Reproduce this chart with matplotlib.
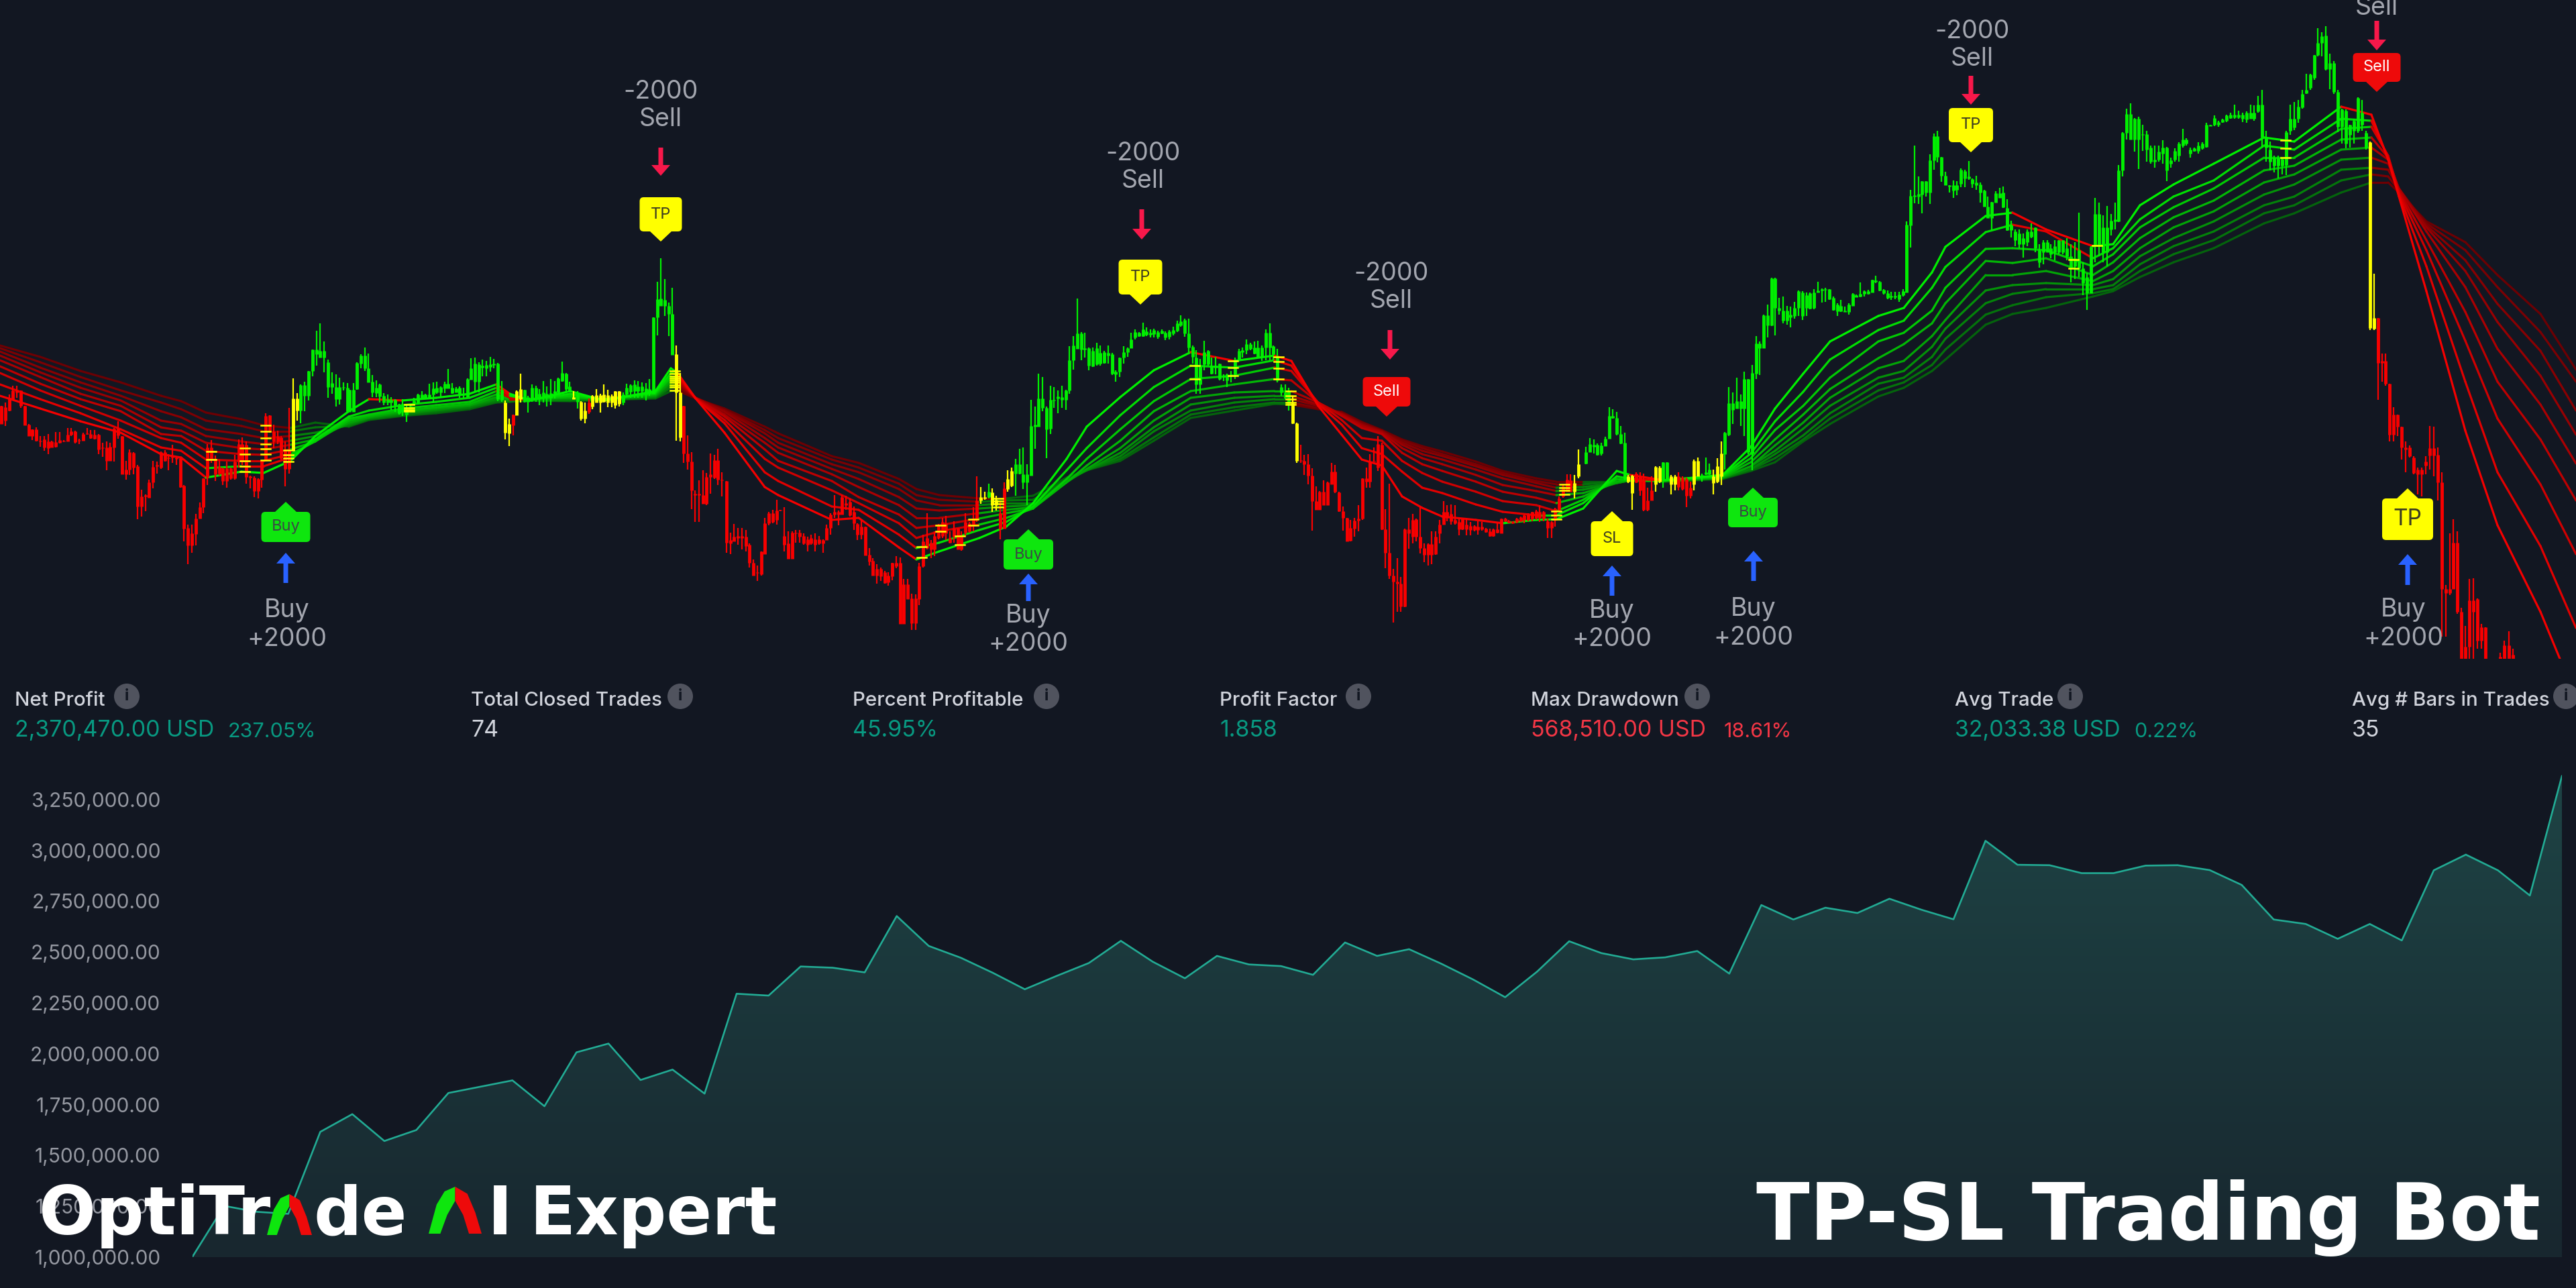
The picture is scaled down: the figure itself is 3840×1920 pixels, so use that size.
# ===========================================================
# OptiTrade AI Expert: price chart, trade signals, stats, equity
# ===========================================================
import numpy as np
import matplotlib
matplotlib.use("Agg")
import matplotlib.pyplot as plt
from matplotlib.collections import LineCollection
from matplotlib.colors import to_rgb
from matplotlib.patches import Circle, FancyBboxPatch, Polygon

# -----------------------------------------------------------
# 1. Candles: (high, low, body top, body bottom), chart has no price
#    scale so values are chart rows, smaller means higher price
# -----------------------------------------------------------
candles_a = [
    ("r", [(605,632,605,632),(600,635,607,627),(588,613,593,612),(575,595,582,595),(575,593,582,585),(582,608,582,605),
           (605,634,605,634),(632,650,633,650),(640,656,640,650),(637,658,640,657),(650,666,657,658),(650,672,655,667),
           (647,677,658,668),(657,667,658,667),(644,667,659,666),(644,661,656,660),(656,659,657,658),(638,658,648,658),
           (638,650,643,648),(642,661,643,659),(654,662,656,657),(645,657,647,657),(638,648,646,647),(641,654,647,653),
           (641,655,648,654),(647,677,648,670),(660,681,667,668),(658,701,667,687),(660,687,666,687),(638,688,639,667),
           (628,654,639,649),(650,707,650,707),(687,715,700,707),(670,708,674,700),(674,707,675,697),(693,774,695,755),
           (730,770,740,755),(737,762,738,740),(715,742,719,742),(687,728,696,719),(688,706,693,695),(673,699,674,697),
           (671,688,674,687),(677,701,682,683),(663,690,680,682),(680,693,682,684),(682,727,683,726),(723,807,724,788),
           (782,841,787,813),(782,824,795,813),(766,813,773,796),(749,773,756,773),(713,765,713,756),(662,723,667,712),
           (656,690,667,686),(679,717,686,707),(685,709,696,706),(697,723,698,717),(688,727,698,717),(697,715,698,713),
           (678,715,688,713),(655,697,662,688),(652,693,662,687),(658,721,663,711),(709,728,710,712),(710,741,712,732),
           (713,743,714,732),(687,727,687,715),(616,688,620,687),(619,645,619,642),(633,668,643,658),(642,662,650,658),
           (650,685,652,683),(658,725,670,699),(608,706,670,699)]),
    ("y", [(564,672,594,672),(586,627,594,612)]),
    ("g", [(573,631,574,612),(569,613,574,590),(553,597,553,590),(521,561,521,553),(493,545,521,528),(482,533,523,533),
           (509,555,523,533),(536,593,540,577),(555,587,571,577),(558,606,577,595),(563,603,577,595),(570,582,577,578),
           (571,615,578,613)]),
]
candles_b = [
    ("g", [(581,614,581,614),(571,614,581,614),(540,581,541,580),(528,549,530,542),(518,553,530,549),(527,570,549,570),
           (559,592,569,585),(567,592,578,586),(572,600,573,591),(586,604,590,600),(588,604,595,600),(592,611,596,600),
           (595,614,596,604),(602,618,603,616),(595,620,604,614),(602,629,610,618),(604,611,605,610),(593,604,597,602),
           (587,603,588,600),(583,595,588,593),(587,593,588,593),(572,593,588,593),(570,600,579,588),(569,587,578,585),
           (576,592,577,585),(569,586,572,579),(550,578,572,579),(571,587,578,586),(577,585,579,585),(576,593,578,588),
           (578,594,587,589),(564,593,565,592),(534,566,549,566),(533,583,542,569),(540,585,543,569),(536,561,545,548),
           (538,561,544,549),(532,554,543,547),(535,549,542,544),(541,598,542,595),(568,599,581,596)]),
    ("y", [(597,655,600,645),(624,665,632,646)]),
    ("r", [(618,649,618,634)]),
    ("y", [(582,619,583,619),(557,600,580,595)]),
    ("g", [(581,600,581,599),(590,615,592,599),(573,599,578,595),(575,599,578,594),(580,604,587,594),(568,600,585,592),
           (576,606,587,592),(565,604,586,593),(568,594,583,587),(563,586,564,585),(539,569,556,568),(556,583,557,580),
           (569,585,576,583)]),
    ("y", [(583,595,592,595)]),
    ("g", [(583,609,585,599)]),
    ("y", [(598,627,599,624),(600,631,612,624)]),
    ("r", [(594,617,600,614)]),
    ("y", [(589,610,590,606),(580,600,589,600),(587,615,589,600),(573,600,588,599),(581,607,589,600),(588,607,590,600),
           (583,609,583,604),(583,606,583,602)]),
    ("g", [(585,604,588,600),(572,590,578,588),(573,593,574,584),(567,593,573,583),(568,593,576,583),(570,593,576,583),
           (571,597,579,588),(565,590,580,587),(473,587,473,587),(420,500,446,473),(385,456,445,456),(416,471,447,456),
           (451,501,456,468),(429,529,468,529)]),
    ("y", [(515,657,528,585),(556,658,585,652)]),
    ("r", [(605,690,605,676),(649,700,676,688),(674,759,688,731),(731,778,736,738),(716,778,736,738),(701,751,738,751),
           (705,753,711,751),(676,736,707,711),(678,714,686,712),(669,723,686,715),(704,740,715,716)]),
]
candles_c = [
    ("r", [(717,824,717,809),(794,826,805,810),(781,807,800,807),(787,812,799,802),(787,819,799,802),(790,822,800,814),
           (810,846,812,839),(834,858,839,858),(843,866,853,854),(822,858,822,856),(772,826,780,826),(763,783,765,780),
           (760,780,765,778),(745,782,761,775),(760,762,760,761),(756,822,799,812),(792,833,810,833),(792,833,794,833),
           (790,809,794,795),(790,809,794,800),(795,812,799,810),(800,822,804,812),(797,812,802,810),(795,822,804,812),
           (799,812,804,810),(804,824,805,810),(782,805,787,805),(765,797,767,787),(738,772,763,767),(761,783,763,767),
           (738,767,741,767),(739,760,750,753),(743,770,748,768),(755,790,763,780),(780,805,781,797),(775,804,785,797),
           (785,828,785,828),(817,843,827,837),(832,858,836,858),(841,870,848,858),(846,866,848,859),(851,870,853,869),
           (853,873,858,868),(839,865,839,859),(829,847,839,844),(831,930,839,930),(863,930,871,930),(863,893,871,893),
           (885,939,892,929),(886,939,892,929),(839,902,844,893),(797,846,807,844),(765,819,802,817),(805,832,809,819),
           (792,829,799,819),(781,804,783,802),(772,802,778,799),(769,805,780,795),(792,810,802,809),(777,809,787,800),
           (787,819,787,819),(792,821,800,819),(765,799,778,794),(778,794,780,792),(756,792,773,783),(710,778,746,775)]),
    ("y", [(726,751,741,746),(733,745,741,743)]),
    ("g", [(721,743,733,741)]),
    ("y", [(728,763,734,753),(739,761,745,753)]),
    ("r", [(746,804,765,788),(719,788,728,788)]),
    ("y", [(701,733,714,729),(697,726,702,724)]),
    ("g", [(684,739,692,706),(669,707,692,706),(667,729,707,719),(692,753,707,719),(596,709,635,709),(606,669,633,636),
           (557,636,594,636),(562,613,594,608),(606,683,608,640),(575,647,596,639),(577,608,596,597),(582,616,591,594),
           (575,608,592,596),(581,611,582,596),(516,587,537,582),(501,551,515,537),(445,520,497,520),(495,537,497,521),
           (496,533,519,521),(518,552,519,545),(518,547,523,546),(511,545,519,543),(515,545,526,542),(523,542,525,541),
           (515,542,526,530),(526,559,528,557),(552,569,554,558),(533,562,533,554),(516,542,525,533),(518,532,519,525),
           (496,519,506,519),(491,506,495,503),(495,502,496,501),(481,502,491,501),(488,501,494,499),(491,503,496,499)]),
]
candles_d = [
    ("g", [(490,503,492,498),(493,505,495,502),(491,498,493,497),(494,507,496,503),(492,506,494,502),(487,500,492,497),
           (478,495,482,493),(470,487,479,485),(475,502,477,497),(475,525,497,518),(515,542,517,532),(522,587,533,573),
           (535,587,545,573),(508,552,525,543),(522,545,523,543),(533,558,545,557),(532,558,545,548),(542,567,542,565),
           (558,568,560,562),(557,577,558,567),(553,570,558,560),(533,565,537,558),(520,538,523,537),(518,533,522,525),
           (506,528,513,522),(511,522,513,520),(509,528,518,527),(508,533,518,532),(515,538,518,532),(491,537,496,518),
           (482,537,496,518),(515,537,516,528),(520,570,531,567),(573,590,577,585),(573,595,585,593),(578,612,583,602)]),
    ("y", [(590,632,601,631),(630,690,631,687)]),
    ("r", [(663,690,686,687),(678,708,687,692),(677,722,692,709),(698,791,709,747),(725,760,747,760),(732,760,733,760),
           (716,753,733,753),(718,753,719,753),(690,722,703,722),(693,735,703,733),(733,763,734,762),(755,791,762,772),
           (772,807,772,807),(775,807,787,806),(772,800,776,788),(753,792,773,776),(713,775,713,773),(697,727,713,718),
           (677,727,688,718),(667,688,687,688),(650,702,662,697),(660,790,663,789),(759,847,789,824),(721,863,824,858),
           (848,928,858,867),(832,912,867,870),(860,912,870,904),(788,905,789,904),(772,818,789,795),(766,810,775,800),
           (773,807,774,800),(755,825,800,817),(810,838,817,827),(810,843,811,827),(792,841,811,827),(792,827,800,826),
           (775,810,782,795),(747,782,763,782),(753,777,763,772),(752,782,766,777),(753,782,775,780),(772,798,778,789),
           (772,790,772,789),(772,798,782,789),(778,798,784,790),(783,792,784,790),(777,797,785,790),(778,791,785,789),
           (787,794,788,793),(788,800,792,799),(788,800,789,799),(778,795,789,794),(773,795,773,795),(772,778,773,777),
           (775,780,776,779),(777,781,777,780),(772,780,773,778),(770,778,771,777),(767,780,768,775),(765,777,767,775),
           (763,777,763,773),(760,775,762,772),(753,778,763,772),(762,777,763,773),(773,802,777,787),(777,802,778,787),
           (757,785,758,775),(740,763,743,760),(723,742,725,740),(707,733,715,733),(707,733,716,733)]),
    ("y", [(708,743,720,733),(670,713,692,710)]),
]
candles_e = [
    ("g", [(666,692,674,691),(653,674,662,674),(655,676,663,666),(661,679,663,678),(660,679,664,676),(651,665,654,665),
           (607,654,620,654),(610,624,620,623),(614,649,623,647),(635,662,647,661),(645,716,660,714)]),
    ("y", [(708,720,710,718),(708,760,709,735)]),
    ("r", [(704,720,706,719),(704,739,710,731),(706,762,716,760),(727,762,746,760),(710,746,731,746)]),
    ("y", [(695,733,696,722),(695,720,697,718)]),
    ("g", [(689,727,689,716),(689,716,689,716)]),
    ("y", [(708,737,710,722),(708,731,710,722)]),
    ("r", [(704,731,710,726),(710,731,712,729),(712,756,714,739),(718,743,727,739)]),
    ("y", [(685,731,687,722),(682,710,687,710)]),
    ("g", [(706,718,708,710),(682,708,704,707),(691,708,700,707)]),
    ("y", [(700,737,710,720),(683,720,695,718),(658,723,676,710)]),
    ("g", [(644,700,645,677),(577,650,601,648),(585,632,601,611),(563,609,598,609),(588,635,598,609),(554,650,565,609),
           (565,677,565,674),(544,701,556,676),(501,565,512,557),(509,559,512,519),(469,519,470,519),(454,503,470,485),
           (414,486,415,485),(414,500,415,459),(444,469,459,463),(442,482,463,478),(456,484,463,478),(457,488,469,473),
           (450,475,459,471),(433,471,434,459),(434,477,436,471),(436,471,440,459),(436,461,437,460),(431,461,436,459),
           (420,436,433,436),(430,451,431,433),(429,450,431,432),(431,447,431,446),(442,463,444,462),(452,471,454,464),
           (447,465,456,464),(457,465,463,465),(452,469,454,465),(437,456,438,456),(439,443,440,443),(421,443,438,442),
           (433,442,434,438),(432,439,434,438),(417,436,417,436),(411,422,418,420),(419,434,420,433),(431,439,432,437),
           (433,446,437,444),(435,447,441,443),(435,446,441,443),(435,450,439,446),(431,442,434,440),(330,436,335,436),
           (283,369,292,336),(217,303,291,293),(263,304,289,293),(270,318,270,290),(270,293,270,287),(230,304,239,287),
           (199,253,203,239),(195,242,203,234),(234,271,234,262),(256,276,262,276),(276,287,276,278),(269,295,276,284),
           (270,291,276,283),(251,279,253,274),(253,279,255,266),(240,268,263,266),(266,280,267,274),(262,283,272,276),
           (272,302,275,287),(283,308,284,308),(293,325,308,325),(301,343,301,325),(285,302,288,302),(280,295,288,295),
           (278,310,287,309),(297,344,310,343),(329,354,335,343)]),
]
candles_f = [
    ("g", [(342,367,345,358),(342,370,348,364),(348,384,355,364),(342,367,345,361),(333,355,345,353),(339,376,339,370),
           (364,399,373,391),(358,394,361,376),(358,376,361,376),(364,385,370,379),(358,388,367,376),(358,379,358,376),
           (358,379,358,376),(355,388,370,382),(364,421,382,400),(361,416,385,397),(317,413,373,400),(391,440,400,422),
           (407,462,413,437),(367,437,368,437),(295,391,319,367),(302,382,319,367),(321,391,339,376),(307,397,339,376),
           (319,351,329,342),(302,342,327,330),(246,331,254,330),(197,263,198,254),(162,208,170,198),(154,208,170,208),
           (176,226,177,208),(174,252,177,208),(186,225,200,197),(195,241,200,223),(217,244,220,241),(217,250,238,241),
           (217,241,226,238),(209,244,220,229),(219,270,220,254),(235,250,239,244),(221,241,225,238),(212,241,214,232),
           (192,220,208,217),(206,217,208,214),(220,235,223,229),(220,226,221,225),(212,229,217,225),(212,223,214,221),
           (183,220,186,219),(186,188,186,188),(172,188,176,186),(180,189,182,186),(177,183,178,182),(171,182,172,180),
           (168,177,171,176),(156,177,171,175),(165,177,171,175),(168,182,171,177),(166,183,168,178),(156,177,168,177),
           (157,180,168,177),(143,168,156,166),(134,220,156,205),(195,241,205,220),(211,254,223,241),(232,257,235,247),
           (232,266,235,247),(235,260,237,247),(195,261,197,246),(156,201,177,195),(152,194,177,190),(149,183,159,177),
           (134,162,140,160),(110,140,134,139),(110,134,111,131),(82,119,82,116),(42,84,64,82),(48,84,54,64),
           (39,105,53,103),(80,133,94,103),(91,140,94,137),(134,197,137,189),(162,214,163,189),(163,221,165,214),
           (186,220,186,201),(177,214,180,195),(145,198,146,195),(149,195,168,186),(195,223,198,220)]),
    ("y", [(211,492,212,489),(408,492,474,490)]),
    ("r", [(474,596,474,541),(527,569,538,541),(527,575,538,572),(572,658,572,648),(607,658,618,648),(618,650,618,636),
           (636,685,636,667),(658,704,667,670),(664,682,667,680),(680,707,682,705),(697,737,700,707),(697,740,700,707),
           (680,707,688,694),(635,700,668,679),(636,710,668,679),(667,746,678,719),(704,949,719,878),(872,949,878,884),
           (795,887,878,884),(774,878,809,878),(792,915,809,912),(906,982,912,982),(933,982,964,982),(863,982,895,964),
           (862,982,895,912),(892,967,893,955),(930,967,935,955),(935,982,935,982)]),
]
candles_g = [
    ("r", [(973,982,979,982),(955,982,962,982),(941,982,962,982),(967,982,976,982)]),
]
candle_sections = [candles_a, candles_b, candles_c, candles_d, candles_e, candles_f, candles_g]
section_spans = [(2, 518), (521, 1076), (1083, 1715), (1720, 2353), (2364, 2998), (3004, 3705), (3727, 3746)]

# -----------------------------------------------------------
# 2. Moving average ribbon: knot position, then nine lines fast to slow
# -----------------------------------------------------------
ribbon_a = [
    (0,590,573,556,546,537,530,524,519,515),(60,609,595,582,572,562,555,548,540,532),
    (120,628,616,605,595,587,578,570,562,553),(180,645,640,627,613,605,597,590,582,570),
    (240,677,667,653,647,637,627,613,600,590),(270,682,672,660,650,642,632,622,610,598),
    (307,712,698,685,672,660,650,640,627,615),(360,703,695,687,677,668,658,647,635,625),
    (393,705,695,687,678,670,662,653,643,634),(433,687,682,677,670,663,657,650,643,638),
    (470,650,655,658,658,655,650,645,637,630),(520,613,621,624,627,630,632,634,635,636),
    (550,595,612,618,620,622,623,624,625,626),(600,597,604,609,612,614,616,618,619,620),
    (650,593,599,604,607,609,611,612,614,616),(700,587,593,599,602,604,605,607,608,610),
    (740,573,578,583,588,592,595,597,599,600),(760,587,590,593,595,596,597,598,598,599),
    (790,597,596,595,595,595,596,596,597,597),(850,583,587,590,592,593,595,596,597,598),
    (900,597,596,595,595,595,595,595,596,596),(977,583,585,587,588,590,591,592,593,594),
    (1000,549,556,561,564,568,571,575,578,583),(1010,556,558,561,564,567,570,573,577,582),
    (1037,594,594,594,593,593,593,593,593,594),(1080,645,631,626,621,618,614,612,611,609),
]
ribbon_b = [
    (1140,726,704,684,670,660,653,646,641,636),(1160,738,717,697,687,675,667,660,653,646),
    (1240,775,755,731,717,707,699,692,685,680),(1280,772,760,750,741,726,714,704,697,690),
    (1340,816,797,780,767,753,741,729,721,714),(1366,834,817,802,787,772,758,746,738,729),
    (1400,822,809,792,783,772,761,753,745,738),(1460,802,790,782,773,765,758,753,748,743),
    (1500,785,778,772,765,760,755,750,746,743),(1540,750,755,758,758,756,753,750,745,739),
    (1590,684,701,714,719,719,717,716,714,712),(1620,636,668,684,694,699,701,701,701,701),
    (1670,592,619,640,657,668,675,680,684,687),(1720,552,577,598,613,627,637,643,652,657),
    (1775,525,545,565,583,593,603,612,618,623),(1840,538,548,560,573,585,593,600,607,612),
    (1900,530,537,548,565,583,590,595,600,602),(1925,538,545,553,567,583,590,595,600,603),
    (1965,605,602,600,600,600,603,605,608,610),(2000,648,633,626,620,618,617,616,615,614),
    (2030,685,668,653,638,635,633,632,630,629),(2060,694,677,657,647,645,643,643,642,641),
    (2090,740,703,687,675,668,663,660,657,655),(2120,757,727,705,692,683,677,672,668,665),
    (2150,770,735,718,702,692,685,680,677,673),(2200,775,752,733,718,708,700,695,692,688),
    (2240,780,763,747,733,723,713,708,705,702),(2290,775,768,753,742,732,725,720,717,713),
    (2320,774,768,762,750,738,732,727,722,718),
]
ribbon_c = [
    (2360,758,750,745,740,735,730,726,722,718),(2410,702,710,714,718,720,720,720,718,718),
    (2430,708,714,716,716,716,716,716,716,716),(2480,716,716,716,716,717,717,717,718,718),
    (2568,708,709,710,711,712,712,713,713,714),(2610,666,676,683,689,695,695,699,700,702),
    (2646,609,628,641,655,664,672,677,683,689),(2688,557,584,605,618,630,639,649,655,658),
    (2728,509,536,563,580,593,605,616,624,632),(2800,471,492,509,534,549,563,572,582,591),
    (2838,459,478,496,513,538,553,563,570,578),(2880,406,429,463,482,501,517,532,544,553),
    (2900,368,398,429,452,477,490,505,521,536),(2960,322,346,371,389,410,433,452,469,484),
    (3000,317,335,370,392,410,425,438,455,468),(3050,342,345,373,385,404,422,431,443,459),
    (3120,367,385,397,410,419,425,431,437,442),(3150,364,370,379,391,404,416,425,431,434),
    (3190,306,327,339,355,370,382,394,404,413),(3240,275,293,309,324,339,355,367,379,391),
    (3300,244,269,281,299,315,330,345,358,370),(3375,205,217,235,254,272,290,306,318,333),
    (3420,211,223,235,247,260,275,293,306,318),(3490,159,177,192,208,223,238,253,269,287),
    (3535,171,180,189,205,220,235,250,260,272),(3560,238,235,232,235,238,244,253,263,272),
    (3576,293,290,287,284,281,281,281,284,287),(3617,434,397,373,358,345,339,336,333,330),
    (3675,642,569,508,465,428,404,388,373,361),(3723,783,704,624,569,520,480,453,428,410),
    (3787,912,814,722,655,603,560,523,495,468),(3840,1040,936,826,746,691,648,612,569,551),
]
yellow_dash_x = [315, 365, 396, 430, 610, 1006, 1374, 1402, 1431, 1451, 1488, 1504, 1781, 1838, 1906, 1924,
                 2148, 2234, 2320, 2332, 2988, 3091, 3126, 3407, 3536]

# -----------------------------------------------------------
# 3. Trade signals
# -----------------------------------------------------------
signal_side = ["buy", "sell", "buy", "sell", "sell", "buy", "buy", "sell", "sell", "buy"]
signal_word = ["Buy", "TP", "Buy", "TP", "Sell", "SL", "Buy", "TP", "Sell", "TP"]
signal_x = [426, 985, 1533, 1700, 2067, 2403, 2613, 2938, 3543, 3589]
signal_box_w = [73, 63, 74, 65, 71, 63, 74, 66, 71, 76]
signal_box_top = [763, 294, 804, 387, 562, 777, 742, 161, 79, 743]
signal_box_bottom = [808, 345, 849, 439, 606, 829, 786, 212, 122, 805]
arrow_x = [426, 985, 1533, 1702, 2072, 2403, 2614, 2938, 3543, 3589]
arrow_start = [869, 220, 896, 312, 492, 888, 866, 113, 31, 872]
arrow_tip = [824, 262, 855, 357, 536, 843, 821, 156, 75, 826]
note_x = [428, 985, 1533, 1704, 2074, 2403, 2614, 2940, 3543, 3583]
note_top_y = [910, 137, 918, 229, 408, 911, 908, 47, 0, 909]
note_bottom_y = [953, 178, 960, 270, 449, 953, 951, 88, 12, 952]
note_top = ["Buy", "-2000", "Buy", "-2000", "-2000", "Buy", "Buy", "-2000", "", "Buy"]
note_bottom = ["+2000", "Sell", "+2000", "Sell", "Sell", "+2000", "+2000", "Sell", "Sell", "+2000"]

# -----------------------------------------------------------
# 4. Stats row and equity curve
# -----------------------------------------------------------
stat_names = ["Net Profit", "Total Closed Trades", "Percent Profitable", "Profit Factor",
              "Max Drawdown", "Avg Trade", "Avg # Bars in Trades"]
stat_values = ["2,370,470.00 USD", "74", "45.95%", "1.858", "568,510.00 USD", "32,033.38 USD", "35"]
stat_extras = ["237.05%", "", "", "", "18.61%", "0.22%", ""]
stat_colors = ["#089981", "#d1d4dc", "#089981", "#089981", "#f23645", "#089981", "#d1d4dc"]
stat_x = [22, 702, 1271, 1818, 2282, 2914, 3506]
stat_icon_x = [189, 1014, 1560, 2025, 2530, 3086, 3825]
stat_extra_x = [340, 0, 0, 0, 2570, 3181, 0]

equity = [1000000, 1252000, 1223000, 1213000, 1616000, 1703000, 1571000, 1625000, 1807000, 1838000,
          1869000, 1742000, 2007000, 2050000, 1871000, 1922000, 1804000, 2295000, 2286000, 2429000,
          2423000, 2400000, 2677000, 2530000, 2472000, 2398000, 2317000, 2383000, 2446000, 2555000,
          2452000, 2371000, 2481000, 2439000, 2431000, 2388000, 2547000, 2481000, 2514000, 2443000,
          2365000, 2278000, 2404000, 2553000, 2495000, 2464000, 2474000, 2505000, 2394000, 2731000,
          2660000, 2718000, 2692000, 2762000, 2708000, 2661000, 3047000, 2929000, 2927000, 2888000,
          2888000, 2925000, 2927000, 2903000, 2830000, 2660000, 2638000, 2565000, 2638000, 2557000,
          2902000, 2979000, 2902000, 2778000, 3365000]
equity_ticks = [1000000, 1250000, 1500000, 1750000, 2000000, 2250000, 2500000, 2750000, 3000000, 3250000]

# -----------------------------------------------------------
# 5. Figure, one pixel axes for overlays
# -----------------------------------------------------------
BG = "#121722"
CANDLE = {"r": "#f80000", "g": "#00f000", "y": "#ffff00"}
UI_FONT = ["Inter", "DejaVu Sans"]
plt.rcParams["font.family"] = UI_FONT

fig = plt.figure(figsize=(38.4, 19.2), dpi=100, facecolor=BG)

# -----------------------------------------------------------
# 6. Equity panel
# -----------------------------------------------------------
PX_PER_STEP = 75.8
eq_top_value = 1000000 + (1874 - 1150) / PX_PER_STEP * 250000
ax_eq = fig.add_axes([286.5 / 3840, (1920 - 1874) / 1920, (3819 - 286.5) / 3840, (1874 - 1150) / 1920])
ax_eq.set_facecolor("none")
trade_no = np.arange(len(equity))
area = ax_eq.fill_between(trade_no, equity, 1000000, color="none")
top_rgb = np.array([30, 68, 69]) / 255
bottom_rgb = np.array([24, 39, 47]) / 255
grad = np.linspace(top_rgb, bottom_rgb, 256)[:, None, :]
im = ax_eq.imshow(grad, extent=[0, 74, 1000000, eq_top_value], aspect="auto", zorder=1)
im.set_clip_path(area.get_paths()[0], transform=ax_eq.transData)
ax_eq.plot(trade_no, equity, color="#22ab94", lw=1.9, zorder=2)
ax_eq.set_xlim(0, 74)
ax_eq.set_ylim(1000000, eq_top_value)
ax_eq.set_xticks([])
ax_eq.set_yticks(equity_ticks)
ax_eq.set_yticklabels([f"{v:,.2f}" for v in equity_ticks], fontsize=21.5, color="#9598a1")
ax_eq.tick_params(axis="y", length=0, pad=34)
for sp in ax_eq.spines.values():
    sp.set_visible(False)

# -----------------------------------------------------------
# 7. Price panel
# -----------------------------------------------------------
ax_price = fig.add_axes([0, (1920 - 982) / 1920, 1, 982 / 1920])
ax_price.set_facecolor("none")
ax_price.set_xlim(0, 3840)
ax_price.set_ylim(982, 0)
ax_price.axis("off")

bar_x, bar_high, bar_low, bar_top, bar_bottom, bar_color = [], [], [], [], [], []
for runs, span in zip(candle_sections, section_spans):
    rows = sum(len(r[1]) for r in runs)
    xs = np.linspace(span[0], span[1], rows)
    i = 0
    for col, run in runs:
        for h, l, t, b in run:
            bar_x.append(xs[i])
            bar_high.append(h)
            bar_low.append(l)
            bar_top.append(t)
            bar_bottom.append(b)
            bar_color.append(CANDLE[col])
            i += 1
bar_x = np.array(bar_x)
bar_high = np.array(bar_high)
bar_low = np.array(bar_low)
bar_top = np.array(bar_top)
bar_bottom = np.array(bar_bottom)
bar_mid = (bar_top + bar_bottom) / 2

# ribbon colour follows price: green when price is above the line
ribbon = np.array(ribbon_a + ribbon_b + ribbon_c, dtype=float)
knot_x = ribbon[:, 0]
green = np.array(to_rgb("#00f000"))
red = np.array(to_rgb("#f40000"))
dark_green = np.array([6, 50, 16]) / 255
dark_red = np.array([60, 0, 4]) / 255
fade = [1.0, 0.9, 0.8, 0.7, 0.6, 0.5, 0.42, 0.34, 0.26]
for n in range(8, -1, -1):
    line = ribbon[:, n + 1]
    segs, cols = [], []
    for k in range(len(knot_x) - 1):
        xa, xb = knot_x[k], knot_x[k + 1]
        votes = 0
        for xm, ym in [(xa, line[k]), ((xa + xb) / 2, (line[k] + line[k + 1]) / 2), (xb, line[k + 1])]:
            votes += bar_mid[np.argmin(np.abs(bar_x - xm))] < ym
        is_green = votes >= 2
        base, dark = (green, dark_green) if is_green else (red, dark_red)
        segs.append([(xa, line[k]), (xb, line[k + 1])])
        cols.append(fade[n] * base + (1 - fade[n]) * dark)
    ax_price.add_collection(LineCollection(segs, colors=cols, linewidths=2.3, capstyle="round", zorder=1))

ax_price.vlines(bar_x, bar_high, bar_low, colors=bar_color, linewidth=1.6, zorder=2)
ax_price.vlines(bar_x, bar_top, np.maximum(bar_bottom, bar_top + 1), colors=bar_color, linewidth=3.5, zorder=2)

# short yellow dashes where a line runs through a candle body
for dx in yellow_dash_x:
    nearest = np.argmin(np.abs(bar_x - dx))
    for n in range(9):
        yy = np.interp(dx, knot_x, ribbon[:, n + 1])
        if bar_top[nearest] - 3 <= yy <= bar_bottom[nearest] + 3:
            ax_price.plot([dx - 7, dx + 7], [yy, yy], color="#ffff00", lw=1.8, zorder=3)

# -----------------------------------------------------------
# 8. Overlay in figure pixels: signals, stats, logo
# -----------------------------------------------------------
ov = fig.add_axes([0, 0, 1, 1])
ov.set_facecolor("none")
ov.set_xlim(0, 3840)
ov.set_ylim(1920, 0)
ov.axis("off")

BOX_COLORS = {"Buy": "#0ee60e", "Sell": "#ee0a0a", "TP": "#ffff00", "SL": "#ffff00"}
BOX_TEXT = {"Buy": "#3a4a44", "Sell": "#ffffff", "TP": "#3d3d20", "SL": "#3d3d20"}
for i, word in enumerate(signal_word):
    x, w = signal_x[i], signal_box_w[i]
    top, bot = signal_box_top[i], signal_box_bottom[i]
    col = BOX_COLORS[word]
    ov.add_patch(FancyBboxPatch((x - w / 2 + 4, top + 4), w - 8, bot - top - 8,
                                boxstyle="round,pad=4,rounding_size=6", fc=col, ec="none", zorder=5))
    if signal_side[i] == "buy":
        tri = [(x - 17, top + 1), (x + 17, top + 1), (x, top - 15)]
    else:
        tri = [(x - 17, bot - 1), (x + 17, bot - 1), (x, bot + 15)]
    ov.add_patch(Polygon(tri, fc=col, ec="none", zorder=5))
    size = 24 if bot - top > 60 else 17
    ov.text(x, (top + bot) / 2, word, color=BOX_TEXT[word], fontsize=size, ha="center", va="center", zorder=6)

    # arrow from the note towards the box
    ax_, s, t = arrow_x[i], arrow_start[i], arrow_tip[i]
    acol = "#2962ff" if signal_side[i] == "buy" else "#f7184a"
    d = 1 if t > s else -1
    ov.add_patch(Polygon([(ax_ - 3.5, s), (ax_ + 3.5, s), (ax_ + 3.5, t - d * 16), (ax_ + 14, t - d * 16), (ax_, t),
                          (ax_ - 14, t - d * 16), (ax_ - 3.5, t - d * 16)], fc=acol, ec="none", zorder=5))
    if note_top[i]:
        ov.text(note_x[i], note_top_y[i], note_top[i], color="#a3a6af", fontsize=27, ha="center", va="center", zorder=6)
    ov.text(note_x[i], note_bottom_y[i], note_bottom[i], color="#a3a6af", fontsize=27, ha="center", va="center", zorder=6)

for i, name in enumerate(stat_names):
    ov.text(stat_x[i], 1044, name, color="#d1d4dc", fontsize=21.3, fontweight="medium", ha="left", va="center")
    ov.add_patch(Circle((stat_icon_x[i], 1038), 19, fc="#50535e", ec="none"))
    ov.text(stat_icon_x[i], 1038, "i", color=BG, fontsize=17, fontweight="bold", ha="center", va="center")
    ov.text(stat_x[i], 1089, stat_values[i], color=stat_colors[i], fontsize=24.4, ha="left", va="center")
    if stat_extras[i]:
        ov.text(stat_extra_x[i], 1091, stat_extras[i], color=stat_colors[i], fontsize=22, ha="left", va="center")

# logo words, the A letters are green/red arches
logo_words = ["OptiTr", "de", "I", "Expert"]
logo_x = [58, 468, 727, 790]
LOGO_FONT = ["DejaVu Sans"]
for word, x in zip(logo_words, logo_x):
    ov.text(x, 1840, word, color="white", fontsize=72, fontweight="bold", family=LOGO_FONT,
            ha="left", va="baseline", zorder=8)
arch_green = [(0, 1), (0.22, 1), (0.35, 0.6), (0.5, 0.3), (0.5, 0), (0.3, 0.1), (0.15, 0.38)]
arch_red = [(0.5, 0), (0.5, 0.3), (0.65, 0.6), (0.76, 1), (1, 1), (0.88, 0.55), (0.73, 0.15)]
arch_spots = [(398, 465, 1780, 1841), (639, 718, 1769, 1839)]
for x0, x1, y0, y1 in arch_spots:
    ov.add_patch(Polygon([(x0 + u * (x1 - x0), y0 + v * (y1 - y0)) for u, v in arch_green], fc="#0ee60e", ec="none", zorder=8))
    ov.add_patch(Polygon([(x0 + u * (x1 - x0), y0 + v * (y1 - y0)) for u, v in arch_red], fc="#ee0a0a", ec="none", zorder=8))
ov.text(3787, 1848, "TP-SL Trading Bot", color="white", fontsize=84, fontweight="bold", family=LOGO_FONT,
        ha="right", va="baseline", zorder=8)

fig.savefig("out.png", dpi=100, facecolor=BG)
